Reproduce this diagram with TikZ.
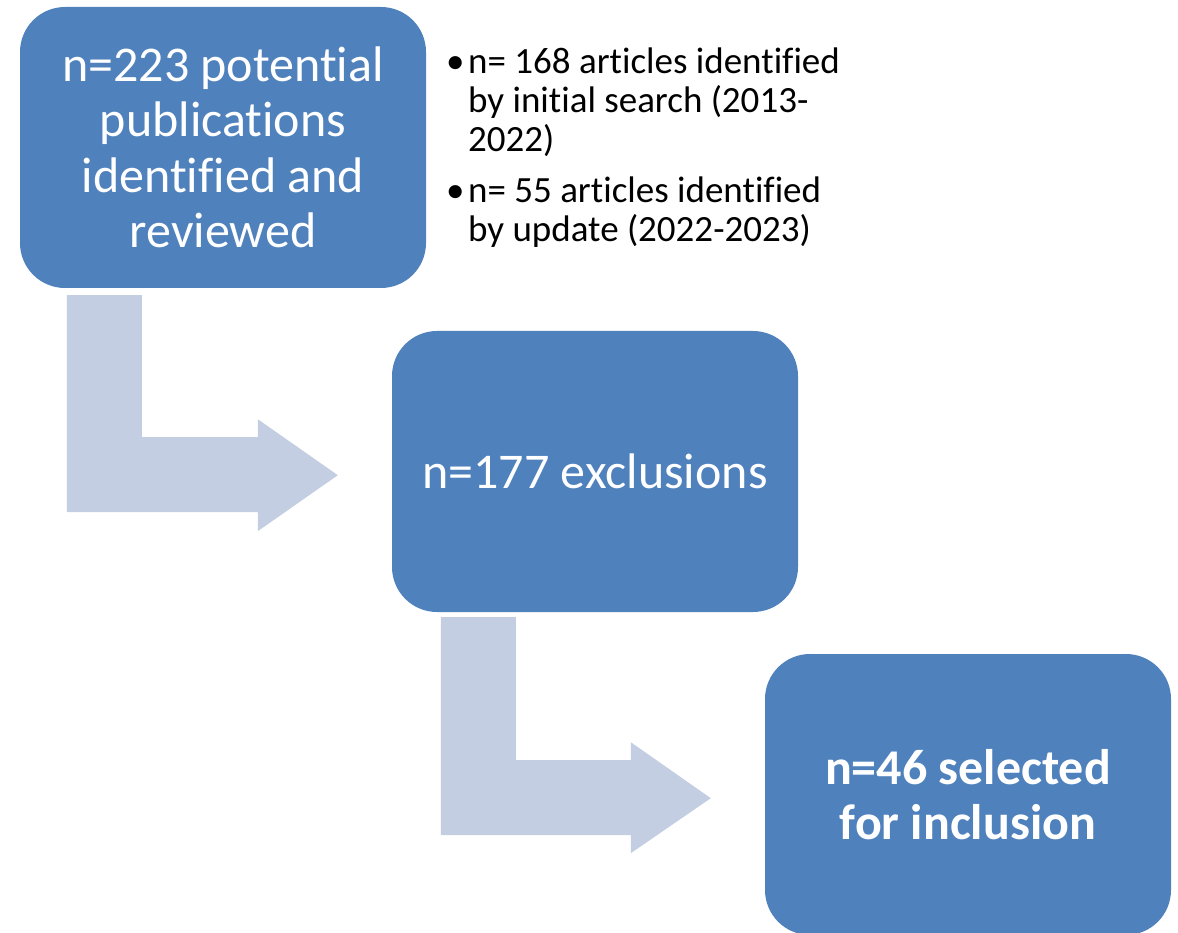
\documentclass[tikz,border=0pt]{standalone}
\usepackage{fontspec}
\setmainfont{Carlito}[Ligatures={NoCommon,NoRare,NoContextual}]
\usetikzlibrary{calc}
\definecolor{boxblue}{HTML}{4F81BD}
\definecolor{arrowblue}{HTML}{C3CEE2}
\tikzset{
  box/.style={fill=boxblue, draw=none, rounded corners=45pt, inner sep=0pt,
    minimum width=406pt, minimum height=281pt, text=white, align=center,
    font=\fontsize{50}{55.5}\selectfont},
  bentarrow/.style={fill=arrowblue, draw=none},
  notes/.style={inner sep=0pt, anchor=base west, text=black}
}
\begin{document}
\begin{tikzpicture}[x=1pt, y=-1pt]
\useasboundingbox (0,0) rectangle (1178,933);
\begin{scope}
\clip (0,0) rectangle (1178,933);
\node[box] (b1) at (223,147.5) {n=223 potent\kern0pt ial\\publicat\kern0pt ions\\identified and\\reviewed};
\node[box] (b2) at (595,471.5) {n=177 exclusions};
\node[box, minimum height=281pt, font=\fontsize{50}{55}\bfseries\selectfont] (b3) at (968,794.5) {n=46 selected\\for inclusion};
\end{scope}
\node[notes] (notes) at (446,73.3) {\fontsize{37}{39}\selectfont
  \begin{tabular}[t]{@{}l@{}l@{}}
  \makebox[22pt][l]{\textbullet} & n= 168 art\kern0pt icles identified\\
  & by init\kern0pt ial search (2013-\\
  & 2022)\\[12.6pt]
  \makebox[22pt][l]{\textbullet} & n= 55 art\kern0pt icles identified\\
  & by update (2022-2023)
  \end{tabular}};
\coordinate (a1) at ($(b1.south west)+(47,7)$);
\coordinate (a2) at ($(b2.south west)+(49,5)$);
\fill[bentarrow] (a1) -- ++(75,0) -- ++(0,142) -- ++(116,0) -- ++(0,-18)
  -- ++(80,56) -- ++(-80,56) -- ++(0,-19) -- ++(-191,0) -- cycle;
\fill[bentarrow] (a2) -- ++(75,0) -- ++(0,143) -- ++(115,0) -- ++(0,-18)
  -- ++(80,56) -- ++(-80,55) -- ++(0,-18) -- ++(-190,0) -- cycle;
\end{tikzpicture}
\end{document}
